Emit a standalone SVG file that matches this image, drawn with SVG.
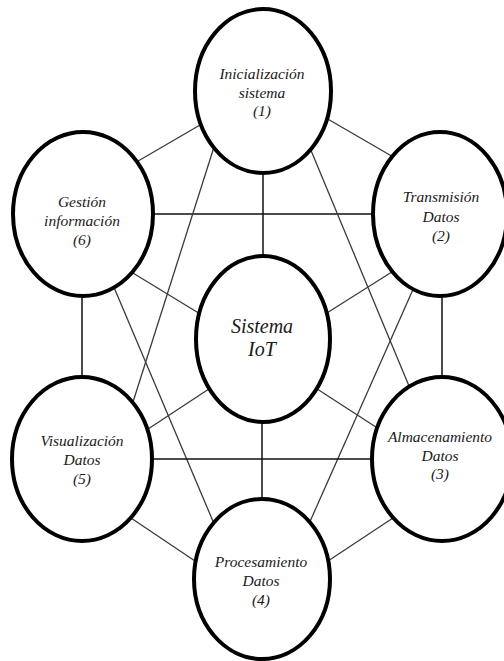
<svg xmlns="http://www.w3.org/2000/svg" width="504" height="661" viewBox="0 0 504 661">
  <style>
    .bg { fill: #ffffff; }
    .edge { stroke: #3a3a3a; stroke-width: 1.3; fill: none; }
    .axis { stroke: #111111; stroke-width: 1.5; fill: none; }
    .node ellipse { fill: #ffffff; stroke: #000000; stroke-width: 4; }
    .node text { font-family: "Liberation Serif", "Times New Roman", serif; font-style: italic; font-size: 15.5px; fill: #1a1a1a; text-anchor: middle; }
    .hub text { font-size: 20px; }
  </style>
  <rect class="bg" x="0" y="0" width="504" height="661"/>

  <!-- connectors, drawn first so the white node fills trim them at the borders -->
  <g id="connectors">
    <line class="edge" x1="200" y1="125" x2="133" y2="164"/>
    <line class="edge" x1="326" y1="118" x2="395" y2="158"/>
    <line class="axis" x1="263" y1="168" x2="263" y2="260"/>
    <line class="axis" x1="148" y1="214" x2="378" y2="214"/>
    <line class="edge" x1="214" y1="147" x2="133" y2="402"/>
    <line class="edge" x1="310" y1="148" x2="409" y2="386"/>
    <line class="edge" x1="415" y1="285" x2="308" y2="526"/>
    <line class="edge" x1="113" y1="285" x2="215" y2="526"/>
    <line class="edge" x1="128" y1="270" x2="215" y2="323"/>
    <line class="edge" x1="395" y1="270" x2="311" y2="323"/>
    <line class="edge" x1="145" y1="431" x2="215" y2="385"/>
    <line class="edge" x1="382" y1="431" x2="311" y2="385"/>
    <line class="axis" x1="148" y1="459" x2="378" y2="459"/>
    <line class="edge" x1="128" y1="516" x2="198" y2="563"/>
    <line class="edge" x1="396" y1="516" x2="325" y2="563"/>
    <line class="axis" x1="262" y1="418" x2="262" y2="503"/>
    <line class="axis" x1="82" y1="290" x2="82" y2="382"/>
    <line class="axis" x1="442" y1="290" x2="442" y2="382"/>
  </g>

  <g id="node-inicializacion" class="node">
    <ellipse cx="263" cy="91" rx="68" ry="82"/>
    <text x="262" y="79">Inicialización</text>
    <text x="262" y="98">sistema</text>
    <text x="262" y="116">(1)</text>
  </g>

  <g id="node-transmision" class="node">
    <ellipse cx="440" cy="214" rx="67" ry="82"/>
    <text x="441" y="202">Transmisión</text>
    <text x="441" y="222">Datos</text>
    <text x="441" y="241">(2)</text>
  </g>

  <g id="node-gestion" class="node">
    <ellipse cx="83" cy="214" rx="70" ry="82"/>
    <text x="82" y="207">Gestión</text>
    <text x="82" y="226">información</text>
    <text x="82" y="245">(6)</text>
  </g>

  <g id="node-sistema" class="node hub">
    <ellipse cx="263" cy="339" rx="67" ry="83"/>
    <text x="262" y="333">Sistema</text>
    <text x="262" y="356">IoT</text>
  </g>

  <g id="node-visualizacion" class="node">
    <ellipse cx="82" cy="459" rx="70" ry="82"/>
    <text x="82" y="446">Visualización</text>
    <text x="82" y="465">Datos</text>
    <text x="82" y="484">(5)</text>
  </g>

  <g id="node-almacenamiento" class="node">
    <ellipse cx="442" cy="459" rx="70" ry="82"/>
    <text x="440" y="442">Almacenamiento</text>
    <text x="440" y="461">Datos</text>
    <text x="440" y="479">(3)</text>
  </g>

  <g id="node-procesamiento" class="node">
    <ellipse cx="262" cy="579" rx="68" ry="80"/>
    <text x="261" y="567">Procesamiento</text>
    <text x="261" y="586">Datos</text>
    <text x="261" y="605">(4)</text>
  </g>
</svg>
